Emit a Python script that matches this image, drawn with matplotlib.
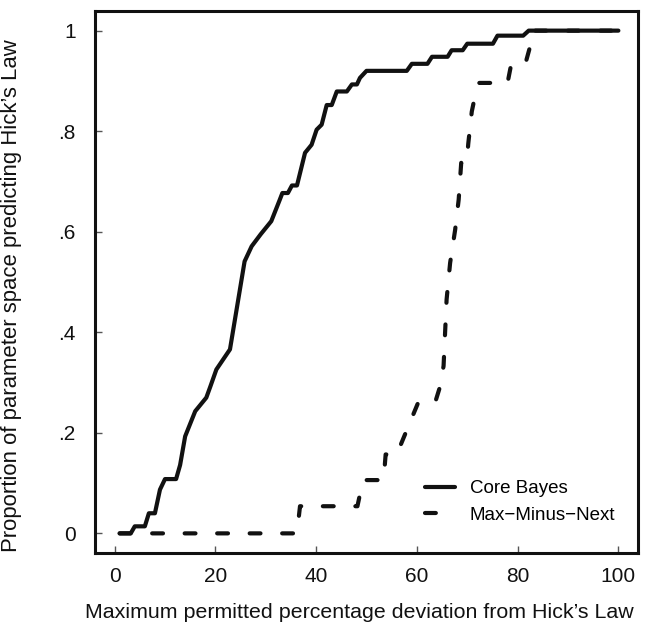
import matplotlib
matplotlib.use("Agg")
import matplotlib.pyplot as plt

plt.rcParams['font.family'] = ['Liberation Sans', 'DejaVu Sans']

# Core Bayes (solid)
core_x = [1, 3.2, 4, 6, 6.8, 8, 9, 10, 12.2, 13, 14, 16, 18.2, 19, 20.2, 22.9,
          25.8, 27.2, 29, 31.1, 32.8, 33.3, 34.4, 35.2, 36.2, 37.8, 39.1, 40.1,
          41.1, 42.1, 43.1, 44.1, 46.1, 47.1, 48.1, 48.7, 50, 58, 59, 62.1, 63,
          66.1, 66.9, 69.1, 70, 75.1, 76, 81.1, 82.2, 100]
core_y = [0, 0, 0.014, 0.014, 0.04, 0.04, 0.087, 0.108, 0.108, 0.136, 0.193,
          0.243, 0.27, 0.292, 0.326, 0.366, 0.541, 0.571, 0.595, 0.621, 0.664,
          0.677, 0.677, 0.692, 0.692, 0.757, 0.773, 0.803, 0.813, 0.852, 0.852,
          0.879, 0.879, 0.893, 0.893, 0.906, 0.92, 0.92, 0.934, 0.934, 0.948,
          0.948, 0.961, 0.961, 0.974, 0.974, 0.99, 0.99, 1.0, 1.0]

# Max-Minus-Next (dashed)
mmn_x = [1, 36.2, 36.8, 48.2, 49.3, 53.4, 53.8, 56, 60.5, 63.8, 64.6, 65.3,
         65.9, 66.6, 67.6, 68.3, 68.8, 69.9, 70.2, 70.9, 71.5, 72.4, 78, 78.8,
         81.7, 82.6, 83, 100]
mmn_y = [0, 0, 0.054, 0.054, 0.106, 0.106, 0.157, 0.157, 0.266, 0.266, 0.292,
         0.333, 0.465, 0.538, 0.604, 0.664, 0.737, 0.737, 0.775, 0.839, 0.868,
         0.896, 0.896, 0.937, 0.94, 0.973, 1.0, 1.0]

series_labels = ["Core Bayes", "Max\u2212Minus\u2212Next"]
x_ticks = [0, 20, 40, 60, 80, 100]
y_ticks = [0, 0.2, 0.4, 0.6, 0.8, 1.0]
y_ticklabels = ["0", ".2", ".4", ".6", ".8", "1"]

fig = plt.figure(figsize=(6.6, 6.34), dpi=100)
ax = fig.add_axes([0.1439, 0.1278, 0.8228, 0.8548])

ax.plot(core_x, core_y, color='#111111', lw=3, solid_capstyle='round',
        solid_joinstyle='round', label=series_labels[0])
ax.plot(mmn_x, mmn_y, color='#111111', lw=3, dashes=(2.6, 5.2),
        dash_capstyle='round', dash_joinstyle='round', label=series_labels[1])

ax.set_xlim(-3.9, 103.9)
ax.set_ylim(-0.039, 1.039)
ax.set_xticks(x_ticks)
ax.set_xticklabels([str(t) for t in x_ticks])
ax.set_yticks(y_ticks)
ax.set_yticklabels(y_ticklabels)

for s in ax.spines.values():
    s.set_linewidth(2.2)
    s.set_color('#111111')

ax.tick_params(axis='both', direction='in', length=5, width=1, color='#555555',
               labelsize=15, labelcolor='#111111')
ax.tick_params(axis='x', pad=10)
ax.tick_params(axis='y', pad=14)

ax.set_xlabel("Maximum permitted percentage deviation from Hick\u2019s Law",
              fontsize=15.4, color='#111111')
ax.xaxis.set_label_coords(0.487, -0.092)
ax.set_ylabel("Proportion of parameter space predicting Hick\u2019s Law",
              fontsize=15.9, color='#111111')
ax.yaxis.set_label_coords(-0.134, 0.475)

ax.legend(loc='upper left', bbox_to_anchor=(0.607, 0.134), frameon=False,
          fontsize=13.5, handlelength=1.6, handletextpad=0.8, labelspacing=0.5,
          borderaxespad=0, borderpad=0)

fig.savefig("out.png", dpi=100)
